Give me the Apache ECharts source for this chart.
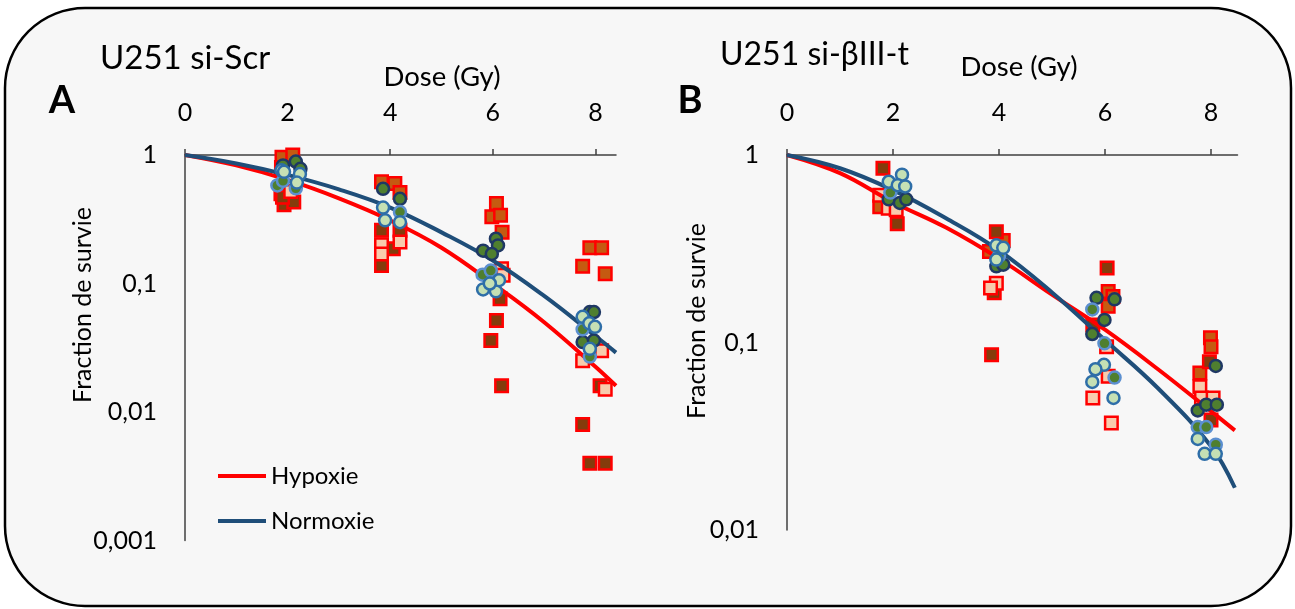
<!DOCTYPE html>
<html><head><meta charset="utf-8">
<script src="https://cdn.jsdelivr.net/npm/echarts@6/dist/echarts.min.js"></script>
<style>html,body{margin:0;padding:0;background:#fff}#c{width:1295px;height:609px}</style>
</head><body><div id="c"></div>
<script>
// ---- data ----
const doseTicks = [0, 2, 4, 6, 8];
const seriesNames = ['Hypoxie', 'Normoxie'];
const panelTitles = ['U251 si-Scr', 'U251 si-\u03B2III-t'];
const panelLetters = ['A', 'B'];

// fitted curves
const curveDoseA = [0, 1, 2, 3, 4, 5, 6, 7, 8, 8.4];
const aHypoxie  = [1, 0.83, 0.64, 0.46, 0.31, 0.19, 0.100, 0.050, 0.0225, 0.016];
const aNormoxie = [1, 0.86, 0.70, 0.54, 0.39, 0.25, 0.151, 0.08, 0.039, 0.029];
const curveDoseB = [0, 1, 2, 3, 4, 5, 6, 7, 8, 8.45];
const bHypoxie  = [1, 0.80, 0.56, 0.41, 0.28, 0.18, 0.117, 0.072, 0.043, 0.034];
const bNormoxie = [1, 0.85, 0.65, 0.46, 0.31, 0.185, 0.103, 0.057, 0.028, 0.0168];

// panel A individual points [dose, fraction]
const aSqOrange = [[1.89,0.96],[2.1,1.0],[1.88,0.8],[1.87,0.5],[3.83,0.62],[4.09,0.6],[4.19,0.51],[6.07,0.42],[5.98,0.33],[6.15,0.34],[6.18,0.25],[7.89,0.19],[8.12,0.19],[7.75,0.136],[8.19,0.119]];
const aSqDark = [[1.93,0.41],[2.12,0.43],[1.9,0.47],[3.83,0.26],[3.83,0.138],[4.06,0.186],[4.19,0.26],[6.07,0.0515],[5.96,0.036],[6.17,0.016],[6.14,0.076],[8.09,0.016],[7.75,0.008],[7.89,0.004],[8.19,0.004]];
const aSqPeach = [[2.06,0.52],[3.83,0.2],[4.19,0.21],[3.83,0.17],[6.17,0.13],[6.2,0.116],[7.75,0.025],[8.12,0.03],[8.19,0.015]];
const aCirNavy = [[2.16,0.89],[1.91,0.83],[2.25,0.78],[3.86,0.545],[4.19,0.456],[6.06,0.223],[6.1,0.198],[5.81,0.18],[5.98,0.17],[7.89,0.06],[7.97,0.06],[7.75,0.035],[7.97,0.036]];
const aCirBlue = [[1.8,0.58],[1.91,0.63],[2.16,0.55],[4.19,0.36],[5.8,0.117],[5.96,0.126],[7.75,0.044],[7.89,0.027]];
const aCirLight = [[1.88,0.76],[1.93,0.74],[2.24,0.71],[2.18,0.61],[3.86,0.39],[3.9,0.31],[4.19,0.3],[5.81,0.09],[6.06,0.087],[6.12,0.106],[5.94,0.1],[7.75,0.055],[7.88,0.049],[7.99,0.046],[7.89,0.031]];

// panel B individual points
const bSqOrange = [[1.75,0.53],[4.08,0.35],[3.82,0.306],[6.06,0.187],[6.15,0.176],[6.06,0.156],[7.99,0.106],[8.0,0.095],[7.79,0.0687]];
const bSqDark = [[1.81,0.85],[2.08,0.43],[3.95,0.39],[3.91,0.184],[3.86,0.086],[6.04,0.25],[5.77,0.124],[7.97,0.079],[8.0,0.0386]];
const bSqPeach = [[1.75,0.61],[1.91,0.52],[2.06,0.51],[3.95,0.207],[3.84,0.195],[6.03,0.095],[6.06,0.066],[5.77,0.0506],[6.12,0.0372],[7.79,0.058],[7.82,0.0506],[8.04,0.0506]];
const bCirNavy = [[1.92,0.58],[2.13,0.555],[2.25,0.58],[3.95,0.255],[4.08,0.26],[5.84,0.173],[6.18,0.17],[5.99,0.132],[5.76,0.111],[8.09,0.075],[7.75,0.0434],[7.91,0.0466],[8.11,0.0466]];
const bCirBlue = [[1.95,0.63],[4.0,0.29],[5.76,0.15],[5.99,0.099],[6.18,0.065],[7.75,0.0354],[7.91,0.0354],[8.09,0.0285]];
const bCirLight = [[2.17,0.785],[1.92,0.72],[2.09,0.69],[2.23,0.68],[3.95,0.33],[4.08,0.32],[3.95,0.277],[5.98,0.076],[5.82,0.072],[5.76,0.0616],[6.16,0.0506],[7.75,0.0306],[7.88,0.0255],[8.09,0.0255]];

// ---- styling ----
const FONT = 'Lato';
const RED = '#ff0000', BLUE = '#1f4e79';
const sqStyle = {
  orange: { color: '#c55a11', borderColor: '#ff0000', borderWidth: 2.5, opacity: 1 },
  dark:   { color: '#843c0c', borderColor: '#ff0000', borderWidth: 2.5, opacity: 1 },
  peach:  { color: '#f8cbad', borderColor: '#ff0000', borderWidth: 2.5, opacity: 1 }
};
const cirStyle = {
  navy:  { color: '#4f7f2f', borderColor: '#1f3864', borderWidth: 2.5, opacity: 1 },
  blue:  { color: '#4f7f2f', borderColor: '#5b8fd0', borderWidth: 2.5, opacity: 1 },
  light: { color: '#c5e0b4', borderColor: '#2e6ea8', borderWidth: 2.5, opacity: 1 }
};

function sq(data, st, gi) {
  return { type: 'scatter', xAxisIndex: gi, yAxisIndex: gi, data, symbol: 'rect', symbolSize: 12.5,
    itemStyle: st, z: 2, silent: true };
}
function cir(data, st, gi) {
  return { type: 'scatter', xAxisIndex: gi, yAxisIndex: gi, data, symbol: 'circle', symbolSize: 12,
    itemStyle: st, z: 4, silent: true };
}
function curve(name, xs, ys, color, gi) {
  return { type: 'line', name, xAxisIndex: gi, yAxisIndex: gi, data: xs.map((x, i) => [x, ys[i]]),
    smooth: 0.4, showSymbol: false, color, lineStyle: { color, width: 4 }, z: 3, silent: true };
}

function xAxis(gi, max) {
  return { gridIndex: gi, type: 'value', position: 'top', min: 0, max,
    axisLine: { show: true, lineStyle: { color: '#404040', width: 1.5 } },
    axisTick: { show: true, length: 6, customValues: doseTicks, lineStyle: { color: '#404040', width: 1.5 } },
    axisLabel: { customValues: doseTicks, margin: 30, fontFamily: FONT, fontSize: 25, color: '#000' },
    splitLine: { show: false } };
}
function yAxis(gi, min) {
  return { gridIndex: gi, type: 'log', logBase: 10, min, max: 1,
    axisLine: { show: true, lineStyle: { color: '#404040', width: 1.5 } },
    axisTick: { show: false },
    axisLabel: { margin: 28, fontFamily: FONT, fontSize: 25, color: '#000',
      formatter: v => String(+Number(v).toPrecision(3)).replace('.', ',') },
    splitLine: { show: false }, minorTick: { show: false } };
}

function txt(x, y, text, size, opts) {
  return Object.assign({ type: 'text', x, y, z: 10, silent: true,
    style: Object.assign({ text, fontFamily: FONT, fontSize: size, fill: '#000',
      align: 'center', verticalAlign: 'middle' }, (opts && opts.style) || {}) },
    opts && opts.el || {});
}

const chart = echarts.init(document.getElementById('c'), null, { renderer: 'canvas' });
chart.setOption({
  animation: false,
  backgroundColor: '#ffffff',
  graphic: [
    { type: 'rect', z: -10, silent: true, shape: { x: 5, y: 8, width: 1286, height: 598, r: 80 },
      style: { fill: '#f7f7f7', stroke: '#000', lineWidth: 2.5 } },
    txt(62, 101, panelLetters[0], 38, { style: { fontWeight: 'bold' } }),
    txt(100, 58, panelTitles[0], 33, { style: { align: 'left' } }),
    txt(442, 77, 'Dose (Gy)', 27.5),
    txt(83, 305, 'Fraction de survie', 25, { el: { rotation: Math.PI / 2 } }),
    txt(690, 101, panelLetters[1], 38, { style: { fontWeight: 'bold' } }),
    txt(720, 55, panelTitles[1], 32, { style: { align: 'left' } }),
    txt(1019, 67, 'Dose (Gy)', 27.5),
    txt(697, 321, 'Fraction de survie', 25, { el: { rotation: Math.PI / 2 } })
  ],
  legend: {
    data: [{ name: seriesNames[0], icon: 'rect' }, { name: seriesNames[1], icon: 'rect' }],
    orient: 'vertical', left: 213, top: 459, itemWidth: 48, itemHeight: 4, itemGap: 21,
    textStyle: { fontFamily: FONT, fontSize: 24, color: '#000', padding: [0, 0, 0, 0] },
    selectedMode: false
  },
  grid: [
    { left: 185, top: 155, width: 431, height: 385.5, containLabel: false },
    { left: 787, top: 155, width: 450.5, height: 375, containLabel: false }
  ],
  xAxis: [xAxis(0, 8.4), xAxis(1, 8.5)],
  yAxis: [yAxis(0, 0.001), yAxis(1, 0.01)],
  series: [
    sq(aSqOrange, sqStyle.orange, 0), sq(aSqDark, sqStyle.dark, 0), sq(aSqPeach, sqStyle.peach, 0),
    curve(seriesNames[0], curveDoseA, aHypoxie, RED, 0),
    curve(seriesNames[1], curveDoseA, aNormoxie, BLUE, 0),
    cir(aCirNavy, cirStyle.navy, 0), cir(aCirBlue, cirStyle.blue, 0), cir(aCirLight, cirStyle.light, 0),
    sq(bSqOrange, sqStyle.orange, 1), sq(bSqDark, sqStyle.dark, 1), sq(bSqPeach, sqStyle.peach, 1),
    curve(seriesNames[0], curveDoseB, bHypoxie, RED, 1),
    curve(seriesNames[1], curveDoseB, bNormoxie, BLUE, 1),
    cir(bCirNavy, cirStyle.navy, 1), cir(bCirBlue, cirStyle.blue, 1), cir(bCirLight, cirStyle.light, 1)
  ]
});
</script></body></html>
